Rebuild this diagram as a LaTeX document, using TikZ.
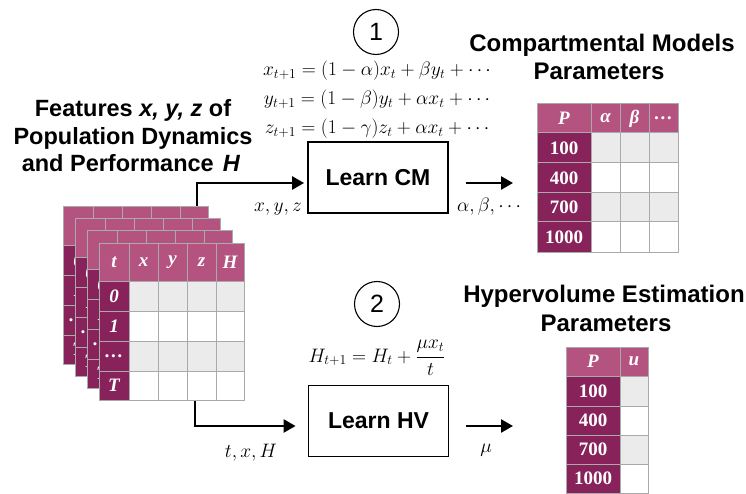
\RequirePackage{fix-cm}
\documentclass[tikz,border=0pt]{standalone}
\usepackage{fontspec}
\setsansfont{Liberation Sans}
\newfontfamily\cellfont{Liberation Serif}
\usetikzlibrary{arrows.meta}
\definecolor{hdrc}{RGB}{180,82,128}
\definecolor{darkc}{RGB}{135,35,90}
\definecolor{grayc}{RGB}{235,235,235}
\definecolor{gridc}{RGB}{170,170,170}
\tikzset{
  cell/.style={draw=gridc, line width=1pt, anchor=north west, inner sep=0pt, outer sep=0pt,
    text=white, font=\cellfont\bfseries\itshape\fontsize{19}{19}\selectfont},
  hdr/.style={cell, fill=hdrc},
  rowlab/.style={cell, fill=darkc},
  numlab/.style={cell, fill=darkc, font=\cellfont\bfseries\fontsize{19}{19}\selectfont},
  learnbox/.style={draw, line width=1.8pt, minimum width=140pt, minimum height=71pt, inner sep=0pt,
    font=\sffamily\bfseries\fontsize{23}{23}\selectfont},
  numcirc/.style={circle, draw, line width=1.1pt, minimum size=45pt, inner sep=0pt,
    font=\sffamily\fontsize{25}{25}\selectfont},
  flow/.style={line width=2.5pt, -{Triangle[length=12pt,width=13pt]}},
  titletext/.style={anchor=base, inner sep=0pt, font=\sffamily\bfseries\fontsize{23.5}{28}\selectfont},
  mathtext/.style={anchor=base, inner sep=0pt, font=\fontsize{19.5}{19.5}\selectfont}
}
\newcommand\lefttbl[3]{%
  \foreach \c/\cx/\cw/\lab in {1/0/30/t,2/30/29/x,3/59/29/y,4/88/29/z,5/117/28/H}{
    \node[hdr, minimum width=\cw pt, minimum height=38pt] (#1h\c) at ({#2+\cx},{#3}) {\lab};
  }
  \foreach \r/\ry/\rh/\lab/\fc in {1/38/30/0/grayc,2/68/30/1/white,3/98/30/{…}/grayc,4/128/29/T/white}{
    \node[rowlab, minimum width=30pt, minimum height=\rh pt] (#1r\r) at ({#2},{#3+\ry}) {\lab};
    \foreach \c/\cx/\cw in {2/30/29,3/59/29,4/88/29,5/117/28}{
      \node[cell, fill=\fc, minimum width=\cw pt, minimum height=\rh pt] (#1c\r\c) at ({#2+\cx},{#3+\ry}) {};
    }
  }
}
\begin{document}
\begin{tikzpicture}[x=1pt,y=-1pt]
\useasboundingbox (0,0) rectangle (746,494);
\fill[white] (0,0) rectangle (746,494);

% titles
\node[titletext] (ta1) at (133,117) {Features \textit{x, y, z} of};
\node[titletext] (ta2) at (133,145) {Population Dynamics};
\node[titletext] (ta3) at (131,172) {and Performance\hspace{9pt}\textit{H}};
\node[titletext, font=\sffamily\bfseries\fontsize{24}{28}\selectfont] (tb1) at (602,52) {Compartmental Models};
\node[titletext, font=\sffamily\bfseries\fontsize{24}{28}\selectfont] (tb2) at (599,80) {Parameters};
\node[titletext, font=\sffamily\bfseries\fontsize{24}{28}\selectfont] (tc1) at (604,302) {Hypervolume Estimation};
\node[titletext, font=\sffamily\bfseries\fontsize{24}{28}\selectfont] (tc2) at (606,331) {Parameters};

% circles
\node[numcirc] (n1) at (376,32) {1};
\node[numcirc] (n2) at (377,304) {2};

% equations
\node[mathtext] (eq1) at (377,76) {$x_{t+1} = (1-\alpha)x_t + \beta y_t + \cdots$};
\node[mathtext] (eq2) at (377,105) {$y_{t+1} = (1-\beta)y_t + \alpha x_t + \cdots$};
\node[mathtext] (eq3) at (377,134) {$z_{t+1} = (1-\gamma)z_t + \alpha x_t + \cdots$};
\node[mathtext] (eq4) at (377,362) {$\displaystyle H_{t+1} = H_t + \frac{\mu x_t}{t}$};

% boxes
\node[learnbox] (cm) at (378,177.5) {Learn CM};
\node[learnbox] (hv) at (378.5,421) {Learn HV};

% connectors
\coordinate (topstart) at (197,207);
\coordinate (botstart) at (195,400);
\coordinate (cmout) at (513,183);
\coordinate (hvout) at (513,426);
\draw[flow, shorten >=3pt] (topstart) |- ([yshift=-5.5pt]cm.west);
\draw[flow, shorten >=12pt] (botstart) |- ([yshift=-5pt]hv.west);
\draw[flow] ([xshift=17pt,yshift=-5.5pt]cm.east) -- (cmout);
\draw[flow] ([xshift=16.5pt,yshift=-5pt]hv.east) -- (hvout);

% connector labels
\node[mathtext] (lxyz) at (278,212) {$x, y, z$};
\node[mathtext] (lab) at (489,212) {$\alpha, \beta, \cdots$};
\node[mathtext] (ltxh) at (251,457) {$t, x, H$};
\node[mathtext] (lmu) at (486,452) {$\mu$};

% stacked feature tables
\lefttbl{Ld}{63}{207}
\lefttbl{Lc}{75}{219}
\lefttbl{Lb}{87}{231}
\lefttbl{La}{99}{243}

% compartmental parameter table
\foreach \c/\cx/\cw/\lab in {1/0/54/P,2/54/29/α,3/83/29/β,4/112/29/…}{
  \node[hdr, minimum width=\cw pt, minimum height=29pt] (Ph\c) at ({537+\cx},104) {\lab};
}
\foreach \r/\ry/\rh/\lab/\fc in {1/29/30/100/grayc,2/59/30/400/white,3/89/29/700/grayc,4/118/30/1000/white}{
  \node[numlab, minimum width=54pt, minimum height=\rh pt] (Pr\r) at (537,{104+\ry}) {\lab};
  \foreach \c/\cx/\cw in {2/54/29,3/83/29,4/112/29}{
    \node[cell, fill=\fc, minimum width=\cw pt, minimum height=\rh pt] (Pc\r\c) at ({537+\cx},{104+\ry}) {};
  }
}

% hypervolume parameter table
\node[hdr, minimum width=54pt, minimum height=29pt] (Qh1) at (566,347) {P};
\node[hdr, minimum width=28pt, minimum height=29pt] (Qh2) at (620,347) {u};
\foreach \r/\ry/\rh/\lab/\fc in {1/29/30/100/grayc,2/59/29/400/white,3/88/29/700/grayc,4/117/29/1000/white}{
  \node[numlab, minimum width=54pt, minimum height=\rh pt] (Qr\r) at (566,{347+\ry}) {\lab};
  \node[cell, fill=\fc, minimum width=28pt, minimum height=\rh pt] (Qc\r) at (620,{347+\ry}) {};
}
\end{tikzpicture}
\end{document}
